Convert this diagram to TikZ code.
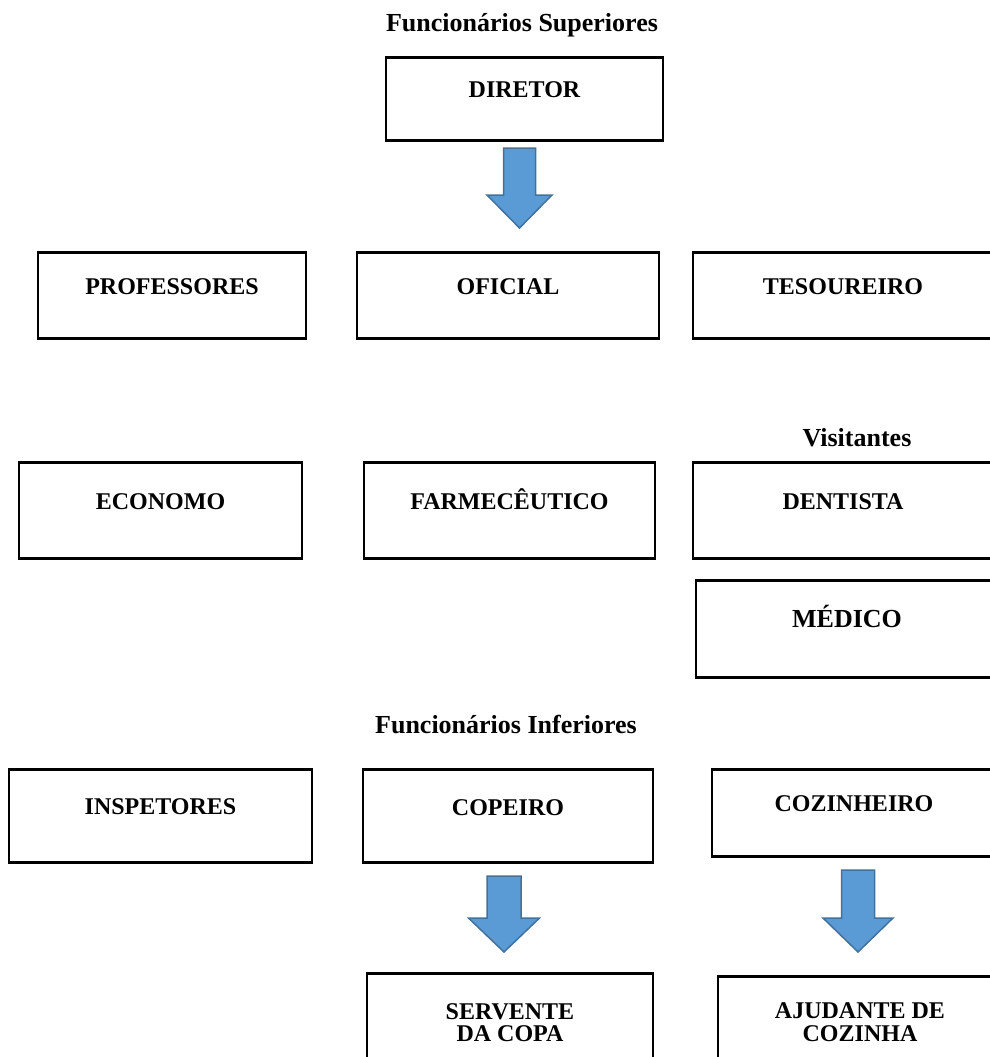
\documentclass[tikz,border=0pt]{standalone}
\usepackage{fontspec}
\setmainfont{Liberation Serif}
\usetikzlibrary{positioning}
\definecolor{setafill}{RGB}{91,155,213}
\definecolor{setadraw}{RGB}{65,113,157}

\begin{document}
\begin{tikzpicture}[x=0.5pt,y=-0.5pt,
  cargo/.style={rectangle,draw=black,line width=1.3pt,anchor=north,
                inner xsep=0pt,inner ysep=0pt,align=center,
                font=\bfseries\fontsize{12}{14}\selectfont},
  grupo/.style={anchor=base,inner sep=0pt,font=\bfseries\fontsize{13}{15}\selectfont},
  seta/.style={fill=setafill,draw=setadraw,line width=0.75pt,line join=miter}
]
\useasboundingbox (0,0) rectangle (990,1057);
\clip (0,0) rectangle (990,1057);

% titulos dos grupos
\node[grupo] (sup) at (522,31)  {Funcionários Superiores};
\node[grupo] (vis) at (857,446) {Visitantes};
\node[grupo] (inf) at (506,733) {Funcionários Inferiores};

% funcionarios superiores
\node[cargo,minimum width=138.5pt,text height=20pt,text depth=21.5pt] (dir) at (524.5,56) {DIRETOR};
\node[cargo,minimum width=134pt,text height=21pt,text depth=22pt] (prof) at (172,251) {PROFESSORES};
\node[cargo,minimum width=151pt,text height=21pt,text depth=22pt] (ofi) at (508,251) {OFICIAL};
\node[cargo,minimum width=150pt,text height=21pt,text depth=22pt] (tes) at (843,251) {TESOUREIRO};
\node[cargo,minimum width=141.5pt,text height=23.5pt,text depth=24.5pt] (eco) at (160.5,461) {ECONOMO};
\node[cargo,minimum width=145.5pt,text height=23.5pt,text depth=24.5pt] (far) at (509.5,461) {FARMECÊUTICO};

% visitantes
\node[cargo,minimum width=150pt,text height=23.5pt,text depth=24.5pt] (den) at (843,461) {DENTISTA};
\node[cargo,minimum width=151pt,text height=23.75pt,text depth=24.75pt,
      font=\bfseries\fontsize{13}{15}\selectfont] (med) at (847,579) {MÉDICO};

% funcionarios inferiores
\node[cargo,minimum width=151.5pt,text height=22.5pt,text depth=24pt] (insp) at (160.5,768) {INSPETORES};
\node[cargo,minimum width=145pt,text height=23pt,text depth=23.5pt] (cop) at (508,768) {COPEIRO};
\node[cargo,minimum width=142pt,text height=21pt,text depth=22.5pt] (coz) at (854,768) {COZINHEIRO};
\node[cargo,minimum width=143pt,text height=34pt,text depth=20pt,
      font=\bfseries\fontsize{12}{11}\selectfont] (serv) at (510,972) {SERVENTE\\DA COPA};
\node[cargo,minimum width=142pt,text height=32.5pt,text depth=20pt,
      font=\bfseries\fontsize{12}{11.5}\selectfont] (aju) at (860,975) {AJUDANTE DE\\COZINHA};

% setas em bloco
\foreach \cx/\yt/\yh/\yb/\hs/\hh in {519.5/148/195/228/16/32.5,
                                     504/876/918/952/17/35.5,
                                     858/870/918/952/16.5/35}
  \draw[seta] (\cx-\hs,\yt) -- (\cx+\hs,\yt) -- (\cx+\hs,\yh) -- (\cx+\hh,\yh)
              -- (\cx,\yb) -- (\cx-\hh,\yh) -- (\cx-\hs,\yh) -- cycle;
\end{tikzpicture}
\end{document}
